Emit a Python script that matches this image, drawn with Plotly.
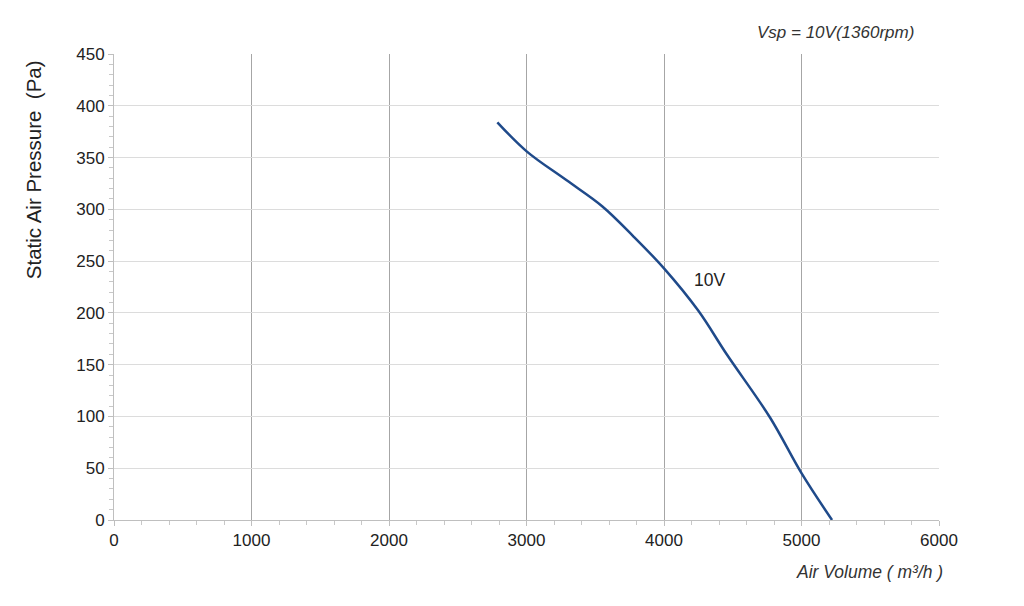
import plotly.graph_objects as go

# Data
air_volume = [2788, 3001, 3292, 3550, 3777, 4000, 4250, 4456, 4771, 5001, 5222]
static_pressure = [384, 356, 328, 303, 274, 243, 202, 160, 99, 45, 0]
curve_label = "10V"
chart_title = "Vsp = 10V(1360rpm)"
x_title = "Air Volume ( m³/h )"
y_title = "Static Air Pressure  (Pa)"

FONT = "Liberation Sans, Arial, sans-serif"

fig = go.Figure()
fig.add_trace(go.Scatter(
    x=air_volume, y=static_pressure, mode="lines",
    line=dict(color="#1f4a8a", width=2.5, shape="spline", smoothing=1.0),
    showlegend=False, hoverinfo="skip",
))

def ann(x, y, text, size, ref="paper", angle=0, color="#222"):
    fig.add_annotation(x=x, y=y, xref=ref if ref == "paper" else "x",
                       yref=ref if ref == "paper" else "y",
                       text=text, showarrow=False, textangle=angle,
                       xanchor="center", yanchor="middle",
                       font=dict(family=FONT, size=size, color=color))

ann(4330, 232, curve_label, 17.5, ref="data")
ann(0.875, 1.047, f"<i>{chart_title}</i>", 17, color="#333")
ann(0.916, -0.112, f"<i>{x_title}</i>", 17.5, color="#333")
ann(-0.098, 0.751, y_title, 20.5, angle=-90)

fig.update_xaxes(
    range=[0, 6000], dtick=1000, showgrid=True, gridcolor="#a6a6a6", gridwidth=1,
    zeroline=False, showline=True, linecolor="#bfbfbf", linewidth=1,
    ticks="outside", ticklen=5, tickcolor="#bfbfbf",
    minor=dict(dtick=200, ticks="outside", ticklen=4, tickcolor="#c8c8c8", showgrid=False),
    tickfont=dict(family=FONT, size=17, color="#222"),
)
fig.update_yaxes(
    range=[0, 450], dtick=50, showgrid=True, gridcolor="#dcdcdc", gridwidth=1,
    zeroline=False, showline=True, linecolor="#bfbfbf", linewidth=1,
    ticks="outside", ticklen=5, tickcolor="#bfbfbf",
    minor=dict(dtick=10, ticks="outside", ticklen=4, tickcolor="#c8c8c8", showgrid=False),
    tickfont=dict(family=FONT, size=17, color="#222"),
)

fig.update_layout(
    width=1008, height=590,
    margin=dict(l=106, r=77, t=46, b=78),
    plot_bgcolor="white", paper_bgcolor="white",
)

fig.write_html("out.html")
